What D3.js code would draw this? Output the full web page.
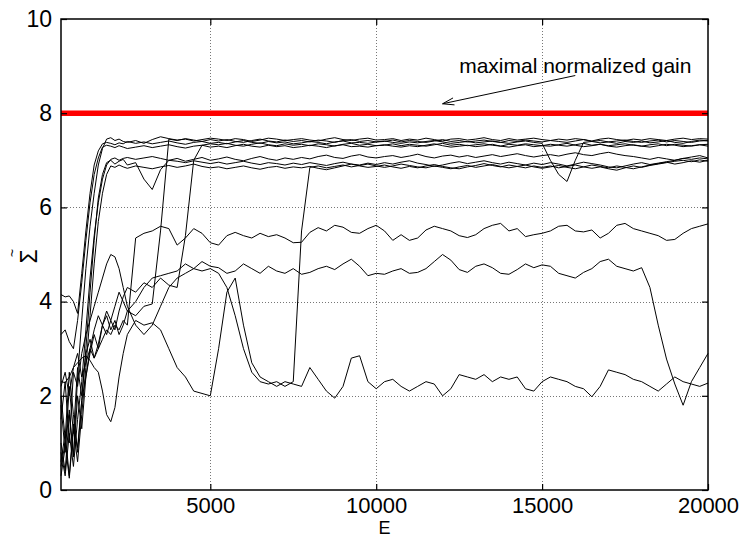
<!DOCTYPE html>
<html>
<head>
<meta charset="utf-8">
<script src="https://cdnjs.cloudflare.com/ajax/libs/d3/7.8.5/d3.min.js"></script>
<style>
  html, body { margin: 0; padding: 0; background: #fff; }
  svg { display: block; font-family: "Liberation Sans", Arial, Helvetica, sans-serif; }
</style>
</head>
<body>
<script>
// ---------------- DATA ----------------
const energy = [500,625,750,875,1000,1125,1250,1375,1500,1625,1750,1875,2000,2125,2250,2375,2500,
  2750,3000,3250,3500,3750,4000,4250,4500,4750,5000,
  5250,5500,5750,6000,6250,6500,6750,7000,7250,7500,
  7750,8000,8250,8500,8750,9000,9250,9500,9750,10000,
  10250,10500,10750,11000,11250,11500,11750,12000,12250,12500,
  12750,13000,13250,13500,13750,14000,14250,14500,14750,15000,
  15250,15500,15750,16000,16250,16500,16750,17000,17250,17500,
  17750,18000,18250,18500,18750,19000,19250,19500,19750,20000];

const runA = [1.0,0.4,1.6,0.7,2.4,3.6,4.7,5.6,6.3,6.9,7.25,7.45,7.48,7.42,7.45,7.40,7.38,
  7.42,7.36,7.44,7.50,7.46,7.43,7.45,7.41,7.44,7.47,
  7.45,7.42,7.46,7.44,7.40,7.43,7.47,7.45,7.42,7.44,
  7.46,7.43,7.41,7.45,7.48,7.44,7.42,7.45,7.47,7.43,
  7.44,7.46,7.42,7.45,7.43,7.47,7.44,7.41,7.45,7.46,
  7.43,7.45,7.48,7.44,7.42,7.46,7.43,7.45,7.47,7.44,
  7.42,7.45,7.43,7.46,7.44,7.41,7.45,7.47,7.44,7.42,
  7.45,7.43,7.46,7.44,7.42,7.45,7.47,7.44,7.46,7.45];

const runB = [3.3,3.4,3.15,3.0,3.6,4.4,5.3,6.1,6.7,7.05,7.28,7.32,7.30,7.27,7.31,7.28,7.25,
  7.28,7.31,7.27,7.30,7.33,7.29,7.26,7.30,7.32,7.28,
  7.30,7.27,7.31,7.34,7.30,7.28,7.32,7.29,7.31,7.27,
  7.29,7.32,7.30,7.27,7.31,7.33,7.29,7.30,7.28,7.31,
  7.33,7.30,7.28,7.31,7.29,7.32,7.35,7.31,7.28,7.30,
  7.32,7.29,7.31,7.34,7.30,7.28,7.31,7.33,7.29,7.31,
  7.30,7.33,7.36,7.32,7.29,7.31,7.34,7.30,7.28,7.31,
  7.33,7.30,7.28,7.31,7.34,7.32,7.29,7.31,7.33,7.30];

const runC = [2.0,1.1,2.5,1.6,0.8,1.9,3.0,4.2,5.3,6.2,6.7,6.95,7.0,6.92,6.98,7.02,6.9,
  6.95,6.6,6.38,6.8,7.0,7.04,6.98,7.02,7.06,7.0,
  7.03,7.07,7.02,6.99,7.04,7.08,7.03,7.0,7.05,7.02,
  7.06,7.03,7.08,7.11,7.06,7.04,7.09,7.12,7.07,7.05,
  7.08,7.1,7.06,7.09,7.13,7.08,7.05,7.09,7.11,7.07,
  7.1,7.06,7.09,7.12,7.08,7.11,7.14,7.1,7.07,7.1,
  7.12,7.09,7.13,7.16,7.12,7.1,7.14,7.17,7.13,7.1,
  7.08,7.05,7.02,7.06,7.03,7.0,7.04,7.02,7.05,7.03];

const runD = [4.15,4.1,4.12,4.0,3.75,4.6,5.5,6.3,6.9,7.2,7.35,7.38,7.36,7.33,7.37,7.35,7.4,
  7.36,7.39,7.35,7.38,7.41,7.37,7.34,7.38,7.40,7.36,
  7.38,7.35,7.39,7.42,7.38,7.36,7.40,7.37,7.39,7.35,
  7.37,7.40,7.38,7.35,7.39,7.41,7.37,7.38,7.36,7.39,
  7.41,7.38,7.36,7.39,7.37,7.40,7.42,7.39,7.36,7.38,
  7.40,7.37,7.39,7.41,7.38,7.36,7.39,7.41,7.38,7.36,
  7.0,6.7,6.55,7.0,7.38,7.40,7.37,7.39,7.36,7.40,
  7.38,7.41,7.37,7.39,7.42,7.38,7.36,7.40,7.43,7.41];

const runJ = [0.6,1.2,0.3,1.4,0.9,1.9,2.4,3.0,3.4,3.7,3.5,3.8,3.6,3.9,4.2,4.0,3.8,
  3.7,3.9,3.95,5.5,7.45,7.42,7.46,7.43,7.40,7.44,
  7.41,7.44,7.40,7.38,7.42,7.45,7.41,7.39,7.43,7.40,
  7.42,7.39,7.43,7.41,7.38,7.42,7.44,7.40,7.42,7.39,
  7.40,7.43,7.39,7.42,7.40,7.38,7.41,7.44,7.40,7.42,
  7.39,7.41,7.43,7.40,7.38,7.42,7.40,7.43,7.41,7.39,
  7.42,7.40,7.38,7.41,7.44,7.40,7.42,7.39,7.41,7.43,
  7.40,7.38,7.41,7.43,7.39,7.42,7.40,7.38,7.41,7.42];

const runI = [1.8,0.8,2.2,1.2,2.6,2.0,2.9,3.2,2.8,3.1,3.5,3.3,3.6,3.4,3.8,4.1,4.3,
  4.2,4.4,4.3,4.5,4.35,4.3,5.4,7.0,7.32,7.35,
  7.33,7.36,7.32,7.30,7.34,7.37,7.33,7.31,7.35,7.32,
  7.34,7.31,7.35,7.33,7.30,7.34,7.36,7.32,7.34,7.31,
  7.32,7.35,7.31,7.34,7.32,7.30,7.33,7.36,7.32,7.34,
  7.31,7.33,7.35,7.32,7.30,7.34,7.32,7.35,7.33,7.31,
  7.34,7.32,7.30,7.33,7.36,7.32,7.34,7.31,7.33,7.35,
  7.32,7.30,7.33,7.35,7.31,7.34,7.32,7.30,7.33,7.34];

const runF = [0.8,0.3,1.2,0.5,1.5,2.3,3.4,4.5,5.4,6.1,6.6,6.9,7.02,7.05,7.0,7.04,7.06,
  7.02,7.05,7.08,7.04,7.0,6.98,6.95,6.99,6.96,6.93,
  6.96,6.92,6.95,6.98,6.94,6.91,6.95,6.93,6.9,6.94,
  6.91,6.95,6.92,6.89,6.93,6.96,6.92,6.9,6.94,6.91,
  6.95,6.92,6.96,6.99,6.94,6.91,6.87,6.9,6.94,6.97,
  6.93,6.96,6.99,6.95,6.92,6.96,6.93,6.9,6.94,6.91,
  6.95,6.92,6.88,6.92,6.96,6.93,6.9,6.86,6.84,6.88,
  6.92,6.95,6.91,6.94,6.97,7.0,7.04,7.07,7.1,7.05];

const runG = [0.5,1.0,0.25,1.3,0.6,1.6,2.6,3.7,4.8,5.7,6.3,6.7,6.88,6.85,6.9,6.86,6.83,
  6.88,6.85,6.82,6.86,6.89,6.85,6.88,6.92,6.87,6.84,
  6.86,6.82,6.85,6.88,6.84,6.81,6.85,6.87,6.83,6.86,
  6.84,6.87,6.83,6.8,6.84,6.88,6.92,6.88,6.85,6.87,
  6.9,6.86,6.83,6.87,6.84,6.88,6.91,6.87,6.84,6.82,
  6.86,6.89,6.93,6.89,6.86,6.9,6.87,6.84,6.88,6.85,
  6.88,6.84,6.87,6.9,6.86,6.83,6.86,6.82,6.79,6.84,
  6.88,6.85,6.89,6.92,6.95,6.98,7.0,6.97,7.01,6.98];

const runE = [1.5,2.3,1.0,2.5,2.2,2.9,3.3,3.6,3.9,4.2,4.5,4.8,5.0,4.95,4.7,4.3,3.9,
  3.5,3.3,3.5,3.9,4.3,4.5,4.6,4.7,4.65,4.7,
  4.6,4.3,3.7,3.0,2.5,2.3,2.25,2.3,2.2,2.3,
  5.5,6.85,6.88,6.84,6.87,6.9,6.86,6.89,6.92,6.88,
  6.85,6.88,6.92,6.89,6.86,6.84,6.88,6.85,6.82,6.86,
  6.89,6.85,6.88,6.91,6.87,6.84,6.87,6.9,6.86,6.83,
  6.86,6.89,6.85,6.82,6.86,6.9,6.87,6.84,6.88,6.85,
  6.82,6.86,6.9,6.93,6.96,6.92,6.95,6.99,6.96,7.0];

const runP = [2.2,2.5,2.0,2.6,2.9,2.4,2.7,3.0,2.8,3.0,3.2,3.4,3.3,3.5,3.4,3.6,3.5,
  5.35,5.45,5.5,5.6,5.55,5.2,5.35,5.55,5.45,5.25,
  5.2,5.4,5.47,5.4,5.35,5.45,5.38,5.42,5.35,5.25,
  5.26,5.47,5.57,5.5,5.62,5.58,5.47,5.45,5.55,5.62,
  5.5,5.3,5.42,5.3,5.35,5.52,5.6,5.55,5.5,5.4,
  5.36,5.42,5.55,5.62,5.66,5.5,5.55,5.38,5.42,5.45,
  5.5,5.6,5.62,5.5,5.48,5.52,5.35,5.45,5.62,5.66,
  5.55,5.5,5.45,5.4,5.3,5.32,5.45,5.55,5.6,5.65];

const runQ = [0.3,0.9,1.7,0.7,2.0,1.3,2.4,2.9,3.3,3.0,3.5,3.7,3.4,3.6,3.3,3.5,3.8,
  4.0,4.3,4.5,4.55,4.6,4.65,4.8,4.7,4.85,4.75,
  4.72,4.6,4.65,4.8,4.7,4.6,4.75,4.65,4.6,4.7,
  4.58,4.62,4.7,4.75,4.68,4.8,4.9,4.75,4.55,4.6,
  4.58,4.65,4.7,4.6,4.62,4.7,4.85,5.0,4.88,4.68,
  4.62,4.75,4.8,4.72,4.6,4.58,4.68,4.8,4.72,4.78,
  4.75,4.6,4.55,4.5,4.62,4.7,4.85,4.9,4.75,4.7,
  4.65,4.72,4.3,3.5,2.78,2.25,1.8,2.3,2.6,2.9];

const runL = [2.3,2.28,2.4,2.6,2.7,2.8,2.85,2.75,2.6,2.5,2.1,1.6,1.45,1.75,2.4,2.9,3.3,
  3.6,3.5,3.55,3.4,3.0,2.6,2.4,2.1,2.05,2.0,
  3.0,4.2,4.5,3.5,2.7,2.4,2.3,2.2,2.3,2.25,
  2.2,2.6,2.35,2.1,1.95,2.2,2.8,2.85,2.3,2.15,
  2.3,2.35,2.2,2.1,2.2,2.3,2.25,2.0,2.15,2.45,
  2.4,2.35,2.45,2.3,2.4,2.35,2.4,2.15,2.1,2.3,
  2.4,2.35,2.3,2.2,2.15,1.98,2.2,2.55,2.5,2.45,
  2.35,2.3,2.2,2.1,2.25,2.4,2.3,2.25,2.2,2.27];

const runs = [runA, runB, runC, runD, runJ, runI, runF, runG, runE, runP, runQ, runL];

const maxGain = 8;
const xTicks = [5000, 10000, 15000, 20000];
const yTicks = [0, 2, 4, 6, 8, 10];
const xGrid = [5000, 10000, 15000];
const yGrid = [2, 4, 6, 8];
const annotText = "maximal normalized gain";
const annotPos = [12500, 8.85];
const arrowFrom = [16000, 8.8];
const arrowTo = [12000, 8.2];

// ---------------- CHART ----------------
const W = 743, H = 538;
const m = { left: 61, right: 35, top: 19, bottom: 48 };
const svg = d3.select("body").append("svg").attr("width", W).attr("height", H);

const x = d3.scaleLinear().domain([500, 20000]).range([m.left, W - m.right]);
const y = d3.scaleLinear().domain([0, 10]).range([H - m.bottom, m.top]);

// grid
const grid = svg.append("g").attr("stroke", "#777").attr("stroke-width", 1).attr("stroke-dasharray", "1,2");
grid.selectAll(".gx").data(xGrid).join("line")
  .attr("x1", d => Math.round(x(d)) + 0.5).attr("x2", d => Math.round(x(d)) + 0.5)
  .attr("y1", y(10)).attr("y2", y(0));
grid.selectAll(".gy").data(yGrid).join("line")
  .attr("y1", d => Math.round(y(d)) + 0.5).attr("y2", d => Math.round(y(d)) + 0.5)
  .attr("x1", x(500)).attr("x2", x(20000));

// curves
const line = d3.line().x((d, i) => x(energy[i])).y(d => y(d));
svg.append("g").selectAll("path").data(runs).join("path")
  .attr("d", line).attr("fill", "none").attr("stroke", "#000")
  .attr("stroke-width", 1).attr("stroke-linejoin", "round");

// red line
svg.append("line")
  .attr("x1", x(500)).attr("x2", x(20000))
  .attr("y1", y(maxGain)).attr("y2", y(maxGain))
  .attr("stroke", "#ff0000").attr("stroke-width", 5.5);

// axes
const gx = svg.append("g").attr("transform", `translate(0,${y(0)})`)
  .call(d3.axisBottom(x).tickValues(xTicks).tickSize(-6).tickPadding(7).tickFormat(d3.format("d")));
const gy = svg.append("g").attr("transform", `translate(${x(500)},0)`)
  .call(d3.axisLeft(y).tickValues(yTicks).tickSize(-6).tickPadding(9).tickFormat(d3.format("d")));
const gx2 = svg.append("g").attr("transform", `translate(0,${y(10)})`)
  .call(d3.axisTop(x).tickValues(xTicks).tickSize(-6).tickFormat(""));
const gy2 = svg.append("g").attr("transform", `translate(${x(20000)},0)`)
  .call(d3.axisRight(y).tickValues(yTicks).tickSize(-6).tickFormat(""));
[gx, gy, gx2, gy2].forEach(g => {
  g.select(".domain").remove();
  g.selectAll(".tick line").attr("stroke", "#000").attr("stroke-width", 1.2);
  g.selectAll("text").attr("fill", "#000")
    .attr("font-family", "'Liberation Sans', Arial, sans-serif");
});
gx.selectAll("text").attr("font-size", 22);
gy.selectAll("text").attr("font-size", 23);

// frame
svg.append("rect")
  .attr("x", x(500)).attr("y", y(10))
  .attr("width", x(20000) - x(500)).attr("height", y(0) - y(10))
  .attr("fill", "none").attr("stroke", "#000").attr("stroke-width", 1.5);

// axis titles
svg.append("text").attr("x", (x(500) + x(20000)) / 2).attr("y", 534)
  .attr("text-anchor", "middle").attr("font-size", 18).text("E");

const yl = svg.append("g").attr("transform", "rotate(-90)");
yl.append("text").attr("x", -256.5).attr("y", 37)
  .attr("text-anchor", "middle").attr("font-size", 23).text("Σ");
yl.append("text").attr("x", -253).attr("y", 17)
  .attr("text-anchor", "middle").attr("font-size", 14).text("~");

// annotation
svg.append("text").attr("x", x(annotPos[0])).attr("y", y(annotPos[1]))
  .attr("font-size", 21).text(annotText);

const ax1 = x(arrowFrom[0]), ay1 = y(arrowFrom[1]);
const ax2 = x(arrowTo[0]), ay2 = y(arrowTo[1]);
const ang = Math.atan2(ay2 - ay1, ax2 - ax1);
const hl = 12, ha = 0.3;
const h1 = [ax2 - hl * Math.cos(ang - ha), ay2 - hl * Math.sin(ang - ha)];
const h2 = [ax2 - hl * Math.cos(ang + ha), ay2 - hl * Math.sin(ang + ha)];
svg.append("path")
  .attr("d", `M${ax1},${ay1}L${ax2},${ay2}M${h1[0]},${h1[1]}L${ax2},${ay2}L${h2[0]},${h2[1]}`)
  .attr("fill", "none").attr("stroke", "#000").attr("stroke-width", 1);
</script>
</body>
</html>
